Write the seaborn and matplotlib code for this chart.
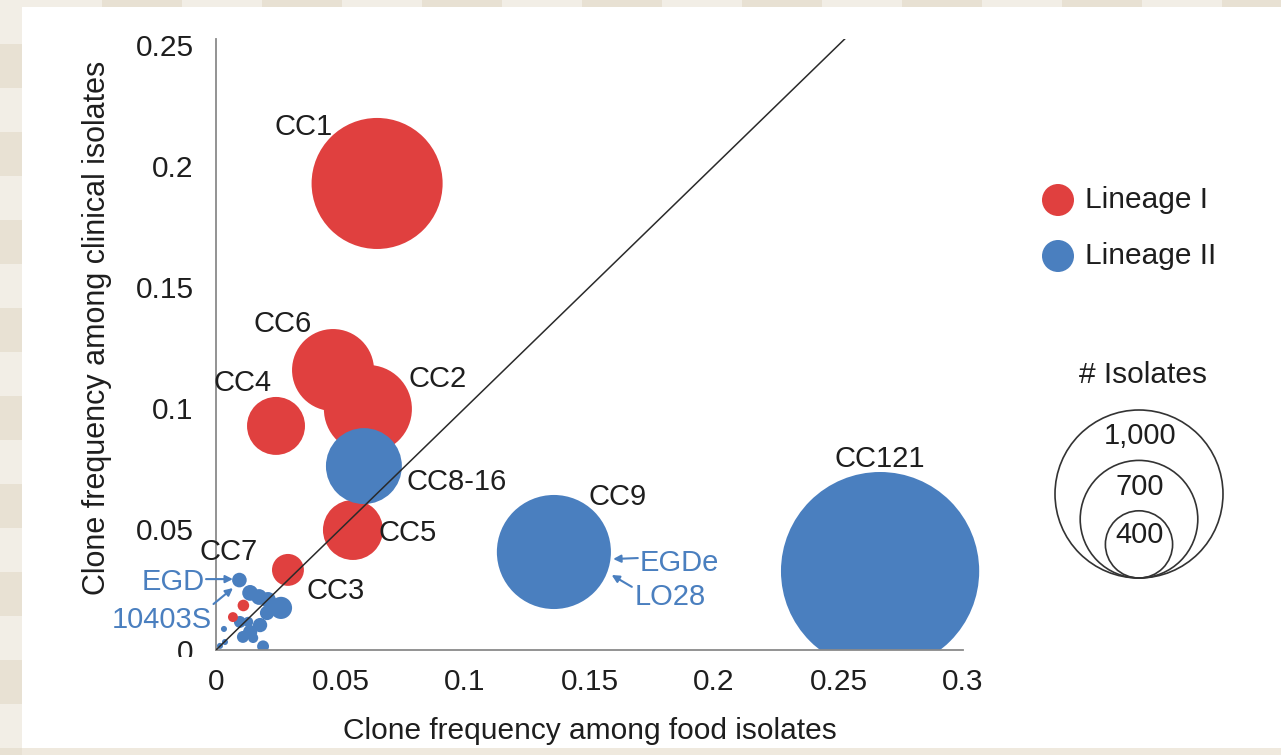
import matplotlib
matplotlib.use("Agg")
import matplotlib.pyplot as plt
import numpy as np
import pandas as pd
import seaborn as sns
from matplotlib.patches import Circle, Rectangle
from matplotlib.transforms import Bbox, TransformedBbox

# ---- data -------------------------------------------------------------
clone_labels = ["CC1", "CC6", "CC2", "CC4", "CC5", "CC3",
                "CC8-16", "CC9", "CC121", "CC7",
                "", "", "", "", "", "", "", "", "", "", "", "", "", "", "",
                "", ""]
food_freq = [0.0647, 0.0470, 0.0610, 0.0241, 0.0550, 0.0289,
             0.0594, 0.1357, 0.2667, 0.0094,
             0.0137, 0.0173, 0.0209, 0.0261, 0.0205, 0.0177, 0.0137, 0.0108,
             0.0149, 0.0096, 0.0129, 0.0189, 0.0036, 0.0016, 0.0032,
             0.0110, 0.0068]
clinical_freq = [0.1928, 0.1157, 0.0996, 0.0926, 0.0496, 0.0331,
                 0.0760, 0.0405, 0.0326, 0.0289,
                 0.0236, 0.0219, 0.0207, 0.0174, 0.0153, 0.0103, 0.0074, 0.0054,
                 0.0050, 0.0116, 0.0116, 0.0015, 0.0033, 0.0017, 0.0087,
                 0.0184, 0.0136]
isolates = [780, 488, 524, 345, 357, 190,
            452, 679, 1180, 87,
            94, 94, 94, 132, 85, 85, 85, 71, 61, 71, 61, 71, 36, 36, 36,
            69, 59]
lineage = (["Lineage I"] * 6 + ["Lineage II"] * 19 + ["Lineage I"] * 2)

x_ticks = [0, 0.05, 0.1, 0.15, 0.2, 0.25, 0.3]
x_tick_labels = ["0", "0.05", "0.1", "0.15", "0.2", "0.25", "0.3"]
y_ticks = [0, 0.05, 0.1, 0.15, 0.2, 0.25]
y_tick_labels = ["0", "0.05", "0.1", "0.15", "0.2", "0.25"]

legend_counts = [1000, 700, 400]
legend_count_labels = ["1,000", "700", "400"]

# ---- style ------------------------------------------------------------
RED = "#E0403F"
BLUE = "#4A7FBF"
TEXT = "#1e1e1e"
AXIS = "#8a8a8a"
DPI = 100
PX_PER_ISOLATE = 0.168          # bubble diameter in pixels per isolate
PT_PER_PX = 72.0 / DPI

sns.set_theme(style="white")
plt.rcParams["font.family"] = ["Liberation Sans", "DejaVu Sans"]

df = pd.DataFrame({"clone": clone_labels, "food": food_freq,
                   "clinical": clinical_freq, "isolates": isolates,
                   "lineage": lineage})

size_lookup = {n: (n * PX_PER_ISOLATE * PT_PER_PX) ** 2 for n in set(isolates)}

fig = plt.figure(figsize=(12.81, 7.55), dpi=DPI)
fig.patch.set_facecolor("#efe9de")
W, H = 1281, 755

def fx(px):
    return px / W

def fy(py):
    return 1 - py / H

# striped page margin and white panel, kept behind the axes
for i, top in enumerate(range(0, H, 44)):
    fig.add_artist(Rectangle((0, fy(top + 44)), fx(22), 44 / H,
                             transform=fig.transFigure, zorder=-10,
                             color="#e8e1d3" if i % 2 else "#f2eee6", lw=0))
for i, left in enumerate(range(22, W, 80)):
    fig.add_artist(Rectangle((fx(left), fy(7)), 80 / W, 7 / H,
                             transform=fig.transFigure, zorder=-10,
                             color="#e8e1d3" if i % 2 else "#f2eee6", lw=0))
fig.add_artist(Rectangle((fx(22), fy(748)), fx(W - 22), (748 - 7) / H,
                         transform=fig.transFigure, color="white", lw=0,
                         zorder=-5))

ax = fig.add_axes([fx(216), fy(650), fx(963 - 216), (650 - 39) / H])
ax.set_facecolor("none")

ax.plot([0, 0.3], [0, 0.3], color="#2a2a2a", lw=1.1, zorder=3)

sns.scatterplot(data=df, x="food", y="clinical", hue="lineage",
                palette={"Lineage I": RED, "Lineage II": BLUE},
                size="isolates", sizes=size_lookup, legend=False,
                linewidth=0, edgecolor="none", alpha=1, ax=ax, zorder=2)

# bubbles are cut only by the x axis, not by the right end of the plot
bubbles = ax.collections[-1]
bubbles.set_clip_path(None)
bubbles.set_clip_box(TransformedBbox(Bbox.from_extents(-0.2, 0.0, 1.3, 1.2),
                                     ax.transAxes))

ax.set_xlim(0, 0.3)
ax.set_ylim(0, 0.2525)

for side in ("top", "right"):
    ax.spines[side].set_visible(False)
for side in ("left", "bottom"):
    ax.spines[side].set_color(AXIS)
    ax.spines[side].set_linewidth(1.3)

ax.set_xticks(x_ticks, x_tick_labels)
ax.set_yticks(y_ticks, y_tick_labels)
ax.tick_params(axis="x", direction="in", length=5, width=1.2, color=AXIS,
               pad=13, labelsize=21.5, labelcolor=TEXT)
ax.tick_params(axis="y", direction="out", length=5, width=1.2, color=AXIS,
               pad=11, labelsize=21.5, labelcolor=TEXT)

# the zero label on the y axis is cut by the plot frame
zero_lab = ax.yaxis.get_major_ticks()[0].label1
zero_lab.set_clip_on(True)
zero_lab.set_clip_box(TransformedBbox(Bbox.from_extents(-0.5, -0.012, 0.0, 1.2),
                                      ax.transAxes))

ax.set_xlabel("Clone frequency among food isolates", fontsize=21.5, color=TEXT)
ax.set_ylabel("Clone frequency among clinical isolates", fontsize=22, color=TEXT)
ax.xaxis.set_label_coords(0.5, -0.1097)
ax.yaxis.set_label_coords(-0.139, 0.527)

# clone labels (offsets in points from each bubble centre)
label_offsets = {"CC1": (-52.6, 40.7), "CC6": (-36, 33), "CC4": (-23.8, 31),
                 "CC2": (50.4, 21.6), "CC8-16": (67, -11.5), "CC5": (39.6, -2.2),
                 "CC3": (34.6, -15.1), "CC9": (46, 39.6), "CC121": (0, 80.6),
                 "CC7": (-8, 20)}
for name, x, y in zip(clone_labels, food_freq, clinical_freq):
    if name in label_offsets:
        ax.annotate(name, (x, y), xytext=label_offsets[name],
                    textcoords="offset points", ha="center", va="center",
                    fontsize=21, color=TEXT, zorder=5)

# reference strains
arrow_kw = dict(arrowstyle="-|>", color=BLUE, lw=1.5, mutation_scale=11,
                shrinkA=0, shrinkB=0)
strain_kw = dict(fontsize=21, color=BLUE, va="center", annotation_clip=False)
ax.annotate("", xy=(0.0068, 0.0293), xytext=(-0.0040, 0.0293),
            arrowprops=arrow_kw, annotation_clip=False)
ax.annotate("EGD", xy=(-0.0046, 0.0281), ha="right", **strain_kw)
ax.annotate("", xy=(0.0068, 0.0256), xytext=(-0.0010, 0.0190),
            arrowprops=arrow_kw, annotation_clip=False)
ax.annotate("10403S", xy=(-0.0016, 0.0124), ha="right", **strain_kw)
ax.annotate("", xy=(0.1595, 0.0376), xytext=(0.1694, 0.0380),
            arrowprops=arrow_kw, annotation_clip=False)
ax.annotate("EGDe", xy=(0.1703, 0.0360), ha="left", **strain_kw)
ax.annotate("", xy=(0.1589, 0.0310), xytext=(0.1670, 0.0261),
            arrowprops=arrow_kw, annotation_clip=False)
ax.annotate("LO28", xy=(0.1683, 0.0219), ha="left", **strain_kw)

# ---- legend, drawn in pixel units -------------------------------------
lx0, lx1, ly0, ly1 = 1030, 1270, 160, 600
lax = fig.add_axes([fx(lx0), fy(ly1), fx(lx1 - lx0), (ly1 - ly0) / H])
lax.set_xlim(lx0, lx1)
lax.set_ylim(ly1, ly0)
lax.axis("off")

for yc, col, lab in [(200, RED, "Lineage I"), (256, BLUE, "Lineage II")]:
    lax.add_patch(Circle((1058, yc), 16, color=col, lw=0))
    lax.text(1085, yc, lab, fontsize=21.5, color=TEXT, va="center", ha="left")

lax.text(1143, 375, "# Isolates", fontsize=21.5, color=TEXT, ha="center",
         va="center")
base_y, cx = 578, 1139
label_y = {1000: 436, 700: 487, 400: 535}
for n, lab in zip(legend_counts, legend_count_labels):
    r = n * PX_PER_ISOLATE / 2
    lax.add_patch(Circle((cx, base_y - r), r, facecolor="none",
                         edgecolor="#333333", lw=1.2))
    lax.text(cx + 1, label_y[n], lab, fontsize=21, color=TEXT, ha="center",
             va="center")

fig.savefig("out.png", dpi=DPI, facecolor=fig.get_facecolor())
